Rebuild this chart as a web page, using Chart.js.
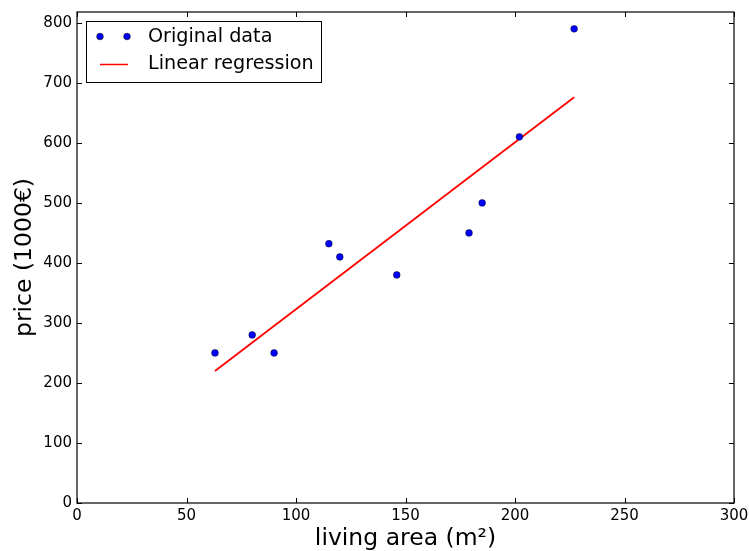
<!DOCTYPE html>
<html>
<head>
<meta charset="utf-8">
<script src="https://cdn.jsdelivr.net/npm/chart.js@4"></script>
<style>
  body { margin: 0; background: #fff; }
  #wrap { width: 749px; height: 551px; }
</style>
</head>
<body>
<div id="wrap"><canvas id="myChart"></canvas></div>
<script>
const livingArea = [63, 80, 90, 115, 120, 146, 179, 185, 202, 227];
const price = [250, 280, 250, 432, 410, 380, 450, 500, 610, 790];
const fitArea = [63, 227];
const fitPrice = [220, 676];
const xTicks = [0, 50, 100, 150, 200, 250, 300];
const yTicks = [0, 100, 200, 300, 400, 500, 600, 700, 800];

const ctx = document.getElementById("myChart");
Chart.defaults.font.family = "'DejaVu Sans', sans-serif";
Chart.defaults.color = "#000";

// matplotlib style frame with inward ticks on all sides
const frame = {
  id: "frame",
  afterDatasetsDraw(chart) {
    const { ctx: c, chartArea: a, scales } = chart;
    const t = 5;
    c.save();
    c.strokeStyle = "#000";
    c.lineWidth = 1;
    c.beginPath();
    xTicks.forEach((v) => {
      const x = Math.round(scales.x.getPixelForValue(v)) + 0.5;
      c.moveTo(x, a.bottom); c.lineTo(x, a.bottom - t);
      c.moveTo(x, a.top); c.lineTo(x, a.top + t);
    });
    yTicks.forEach((v) => {
      const y = Math.round(scales.y.getPixelForValue(v)) + 0.5;
      c.moveTo(a.left, y); c.lineTo(a.left + t, y);
      c.moveTo(a.right, y); c.lineTo(a.right - t, y);
    });
    c.stroke();
    c.lineWidth = 1.2;
    c.strokeRect(a.left, a.top, a.right - a.left, a.bottom - a.top);
    c.restore();
  },
  afterDraw(chart) {
    const c = chart.ctx;
    const ds = chart.data.datasets;
    c.save();
    c.fillStyle = "#fff";
    c.fillRect(86.5, 21.5, 235, 61);
    c.strokeStyle = "#000";
    c.lineWidth = 1;
    c.strokeRect(86.5, 21.5, 235, 61);
    // scatter entry
    [100, 127].forEach((x) => {
      c.beginPath();
      c.arc(x, 36.5, 3.3, 0, Math.PI * 2);
      c.fillStyle = ds[0].backgroundColor;
      c.fill();
      c.lineWidth = 0.6;
      c.strokeStyle = "#000";
      c.stroke();
    });
    // line entry
    c.beginPath();
    c.moveTo(100, 64.5); c.lineTo(128, 64.5);
    c.strokeStyle = ds[1].borderColor;
    c.lineWidth = 1.5;
    c.stroke();
    c.fillStyle = "#000";
    c.font = "19.2px 'DejaVu Sans'";
    c.textBaseline = "middle";
    c.fillText(ds[0].label, 148, 37);
    c.fillText(ds[1].label, 148, 64.5);
    c.restore();
  },
};

new Chart(ctx, {
  type: "scatter",
  data: {
    datasets: [
      {
        label: "Original data",
        data: livingArea.map((x, i) => ({ x: x, y: price[i] })),
        backgroundColor: "#0000ff",
        borderColor: "rgba(0,0,0,0.8)",
        borderWidth: 0.6,
        pointRadius: 3.4,
      },
      {
        type: "line",
        label: "Linear regression",
        data: fitArea.map((x, i) => ({ x: x, y: fitPrice[i] })),
        borderColor: "#ff0000",
        borderWidth: 1.8,
        pointRadius: 0,
        showLine: true,
        fill: false,
      },
    ],
  },
  options: {
    responsive: true,
    maintainAspectRatio: false,
    animation: false,
    layout: { padding: { left: 0, right: 15, top: 12, bottom: 0 } },
    plugins: { legend: { display: false }, tooltip: { enabled: false } },
    scales: {
      x: {
        type: "linear",
        min: 0,
        max: 300,
        grid: { display: false, drawTicks: false },
        border: { display: false },
        afterBuildTicks: (s) => { s.ticks = xTicks.map((v) => ({ value: v })); },
        afterFit: (s) => { s.height = 48; s.paddingLeft = 0; s.paddingRight = 0; },
        ticks: { font: { size: 15 }, padding: 4, maxRotation: 0 },
        title: {
          display: true,
          text: "living area (m²)",
          font: { size: 23.5, lineHeight: 1 },
          padding: { top: 0, bottom: 0 },
        },
      },
      y: {
        type: "linear",
        min: 0,
        max: 818,
        grid: { display: false, drawTicks: false },
        border: { display: false },
        afterBuildTicks: (s) => { s.ticks = yTicks.map((v) => ({ value: v })); },
        afterFit: (s) => { s.width = 77; s.paddingTop = 0; s.paddingBottom = 0; },
        ticks: { font: { size: 15 }, padding: 5 },
        title: {
          display: true,
          text: "price (1000€)",
          font: { size: 23.5, lineHeight: 1 },
          padding: { top: 13, bottom: 0 },
        },
      },
    },
  },
  plugins: [frame],
});
</script>
</body>
</html>
